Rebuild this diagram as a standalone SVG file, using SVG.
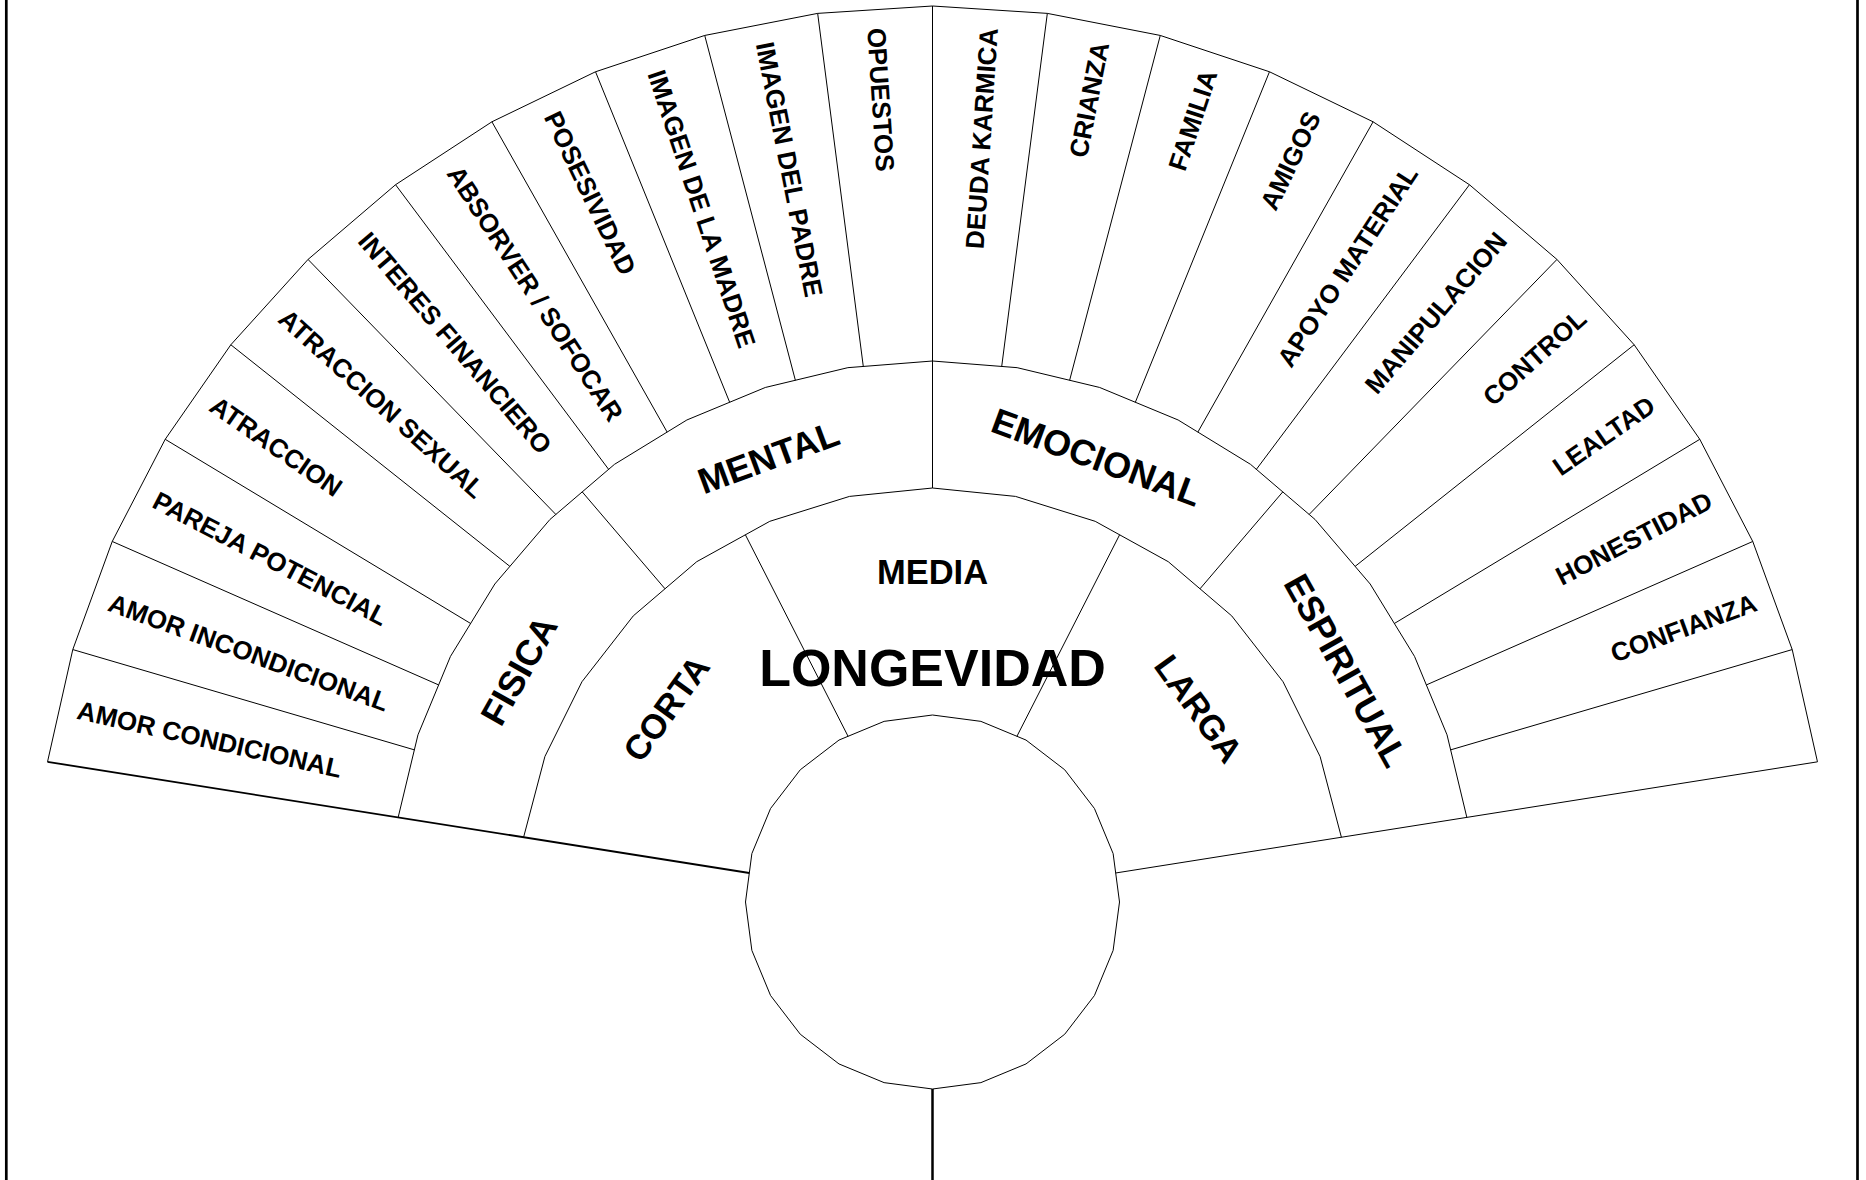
<svg xmlns="http://www.w3.org/2000/svg" width="1866" height="1180" viewBox="0 0 1866 1180">
<style>
.ln{fill:none;stroke:#000;stroke-width:1}
.t{font-family:"Liberation Sans",Arial,Helvetica,sans-serif;font-weight:bold;fill:#000}
.o{font-size:26px}
.r{text-anchor:end}
.m{font-size:36px;text-anchor:middle}
.i{font-size:34.5px;text-anchor:middle}
.big{font-size:52px;text-anchor:middle}
</style>
<rect width="1866" height="1180" fill="#fff"/>
<g id="connectors">
<line x1="6.3" y1="0" x2="6.3" y2="1180" stroke="#000" stroke-width="2.7"/>
<line x1="1857.5" y1="0" x2="1857.5" y2="1180" stroke="#000" stroke-width="2.7"/>
<line x1="932.5" y1="1089" x2="932.5" y2="1180" stroke="#000" stroke-width="2.5"/>
<polyline class="ln" points="47.53,761.84 72.79,649.57 112.24,541.46 165.21,439.31 230.84,344.78 308.04,259.45 395.55,184.72 491.91,121.81 595.53,71.78 704.72,35.44 817.66,13.39 932.5,6 1047.34,13.39 1160.28,35.44 1269.47,71.78 1373.09,121.81 1469.45,184.72 1556.96,259.45 1634.16,344.78 1699.79,439.31 1752.76,541.46 1792.21,649.57 1817.47,761.84"/>
<polyline class="ln" points="398.16,817.37 417.98,734.82 450.47,656.39 494.82,584.01 549.96,519.46 614.51,464.32 686.89,419.97 765.32,387.48 847.87,367.66 932.5,361 1017.13,367.66 1099.68,387.48 1178.11,419.97 1250.49,464.32 1315.04,519.46 1370.18,584.01 1414.53,656.39 1447.02,734.82 1466.84,817.37"/>
<polyline class="ln" points="523.60,837.24 544.90,756.53 581.96,681.74 633.26,615.90 696.73,561.69 769.79,521.32 849.46,496.41 932.5,488 1015.54,496.41 1095.21,521.32 1168.27,561.69 1231.74,615.90 1283.04,681.74 1320.10,756.53 1341.40,837.24"/>
<polygon class="ln" fill="#fff" points="932.5,715 980.90,721.37 1026.00,740.05 1064.73,769.77 1094.45,808.50 1113.13,853.60 1119.5,902 1113.13,950.40 1094.45,995.50 1064.73,1034.23 1026.00,1063.95 980.90,1082.63 932.5,1089 884.10,1082.63 839.00,1063.95 800.27,1034.23 770.55,995.50 751.87,950.40 745.5,902 751.87,853.60 770.55,808.50 800.27,769.77 839.00,740.05 884.10,721.37"/>
<line x1="749.32" y1="872.99" x2="47.53" y2="761.84" stroke="#000" stroke-width="1.8"/>
<line class="ln" x1="1115.68" y1="872.99" x2="1817.47" y2="761.84"/>
<line class="ln" x1="932.5" y1="488" x2="932.5" y2="6"/>
<line class="ln" x1="848.07" y1="736.30" x2="745.40" y2="534.80"/>
<line class="ln" x1="1016.93" y1="736.30" x2="1119.60" y2="534.80"/>
<line class="ln" x1="665.00" y1="588.80" x2="582.23" y2="491.89"/>
<line class="ln" x1="1200.00" y1="588.80" x2="1282.77" y2="491.89"/>
<line class="ln" x1="414.37" y1="749.86" x2="72.79" y2="649.57"/>
<line class="ln" x1="438.65" y1="684.93" x2="112.24" y2="541.46"/>
<line class="ln" x1="470.64" y1="623.49" x2="165.21" y2="439.31"/>
<line class="ln" x1="509.88" y1="566.38" x2="230.84" y2="344.78"/>
<line class="ln" x1="555.85" y1="514.44" x2="308.04" y2="259.45"/>
<line class="ln" x1="608.63" y1="469.36" x2="395.55" y2="184.72"/>
<line class="ln" x1="667.13" y1="432.09" x2="491.91" y2="121.81"/>
<line class="ln" x1="729.67" y1="402.25" x2="595.53" y2="71.78"/>
<line class="ln" x1="795.36" y1="380.27" x2="704.72" y2="35.44"/>
<line class="ln" x1="863.29" y1="366.45" x2="817.66" y2="13.39"/>
<line class="ln" x1="1001.71" y1="366.45" x2="1047.34" y2="13.39"/>
<line class="ln" x1="1069.64" y1="380.27" x2="1160.28" y2="35.44"/>
<line class="ln" x1="1135.33" y1="402.25" x2="1269.47" y2="71.78"/>
<line class="ln" x1="1197.87" y1="432.09" x2="1373.09" y2="121.81"/>
<line class="ln" x1="1256.37" y1="469.36" x2="1469.45" y2="184.72"/>
<line class="ln" x1="1309.15" y1="514.44" x2="1556.96" y2="259.45"/>
<line class="ln" x1="1355.12" y1="566.38" x2="1634.16" y2="344.78"/>
<line class="ln" x1="1394.36" y1="623.49" x2="1699.79" y2="439.31"/>
<line class="ln" x1="1426.35" y1="684.93" x2="1752.76" y2="541.46"/>
<line class="ln" x1="1450.63" y1="749.86" x2="1792.21" y2="649.57"/>
</g>
<g id="center">
<text class="t big" x="932.5" y="686">LONGEVIDAD</text>
</g>
<g id="inner-ring">
<text id="corta" class="t i" transform="rotate(-54 932.5 902)" x="932.5" y="573" dy="0.35em">CORTA</text>
<text id="media" class="t i" x="932.5" y="572" dy="0.35em">MEDIA</text>
<text id="larga" class="t i" transform="rotate(54 932.5 902)" x="932.5" y="573" dy="0.35em">LARGA</text>
</g>
<g id="middle-ring">
<text id="fisica" class="t m" transform="rotate(-60.75 932.5 902)" x="932.5" y="428" dy="0.35em">FISICA</text>
<text id="mental" class="t m" transform="rotate(-20.25 932.5 902)" x="932.5" y="428" dy="0.35em">MENTAL</text>
<text id="emocional" class="t m" transform="rotate(20.25 932.5 902)" x="932.5" y="428" dy="0.35em">EMOCIONAL</text>
<text id="espiritual" class="t m" transform="rotate(60.75 932.5 902)" x="932.5" y="428" dy="0.35em">ESPIRITUAL</text>
</g>
<g id="outer-ring">
<g id="o0"><text class="t o" transform="rotate(-77.318 932.5 902) translate(932.5 26) rotate(90)" dy="0.35em">AMOR CONDICIONAL</text></g>
<g id="o1"><text class="t o" transform="rotate(-69.955 932.5 902) translate(932.5 26) rotate(90)" dy="0.35em">AMOR INCONDICIONAL</text></g>
<g id="o2"><text class="t o" transform="rotate(-62.591 932.5 902) translate(932.5 26) rotate(90)" dy="0.35em">PAREJA POTENCIAL</text></g>
<g id="o3"><text class="t o" transform="rotate(-55.227 932.5 902) translate(932.5 26) rotate(90)" dy="0.35em">ATRACCION</text></g>
<g id="o4"><text class="t o" transform="rotate(-47.864 932.5 902) translate(932.5 26) rotate(90)" dy="0.35em">ATRACCION SEXUAL</text></g>
<g id="o5"><text class="t o" transform="rotate(-40.5 932.5 902) translate(932.5 26) rotate(90)" dy="0.35em">INTERES FINANCIERO</text></g>
<g id="o6"><text class="t o" transform="rotate(-33.136 932.5 902) translate(932.5 26) rotate(90)" dy="0.35em">ABSORVER / SOFOCAR</text></g>
<g id="o7"><text class="t o" transform="rotate(-25.773 932.5 902) translate(932.5 26) rotate(90)" dy="0.35em">POSESIVIDAD</text></g>
<g id="o8"><text class="t o" transform="rotate(-18.409 932.5 902) translate(932.5 26) rotate(90)" dy="0.35em">IMAGEN DE LA MADRE</text></g>
<g id="o9"><text class="t o" transform="rotate(-11.045 932.5 902) translate(932.5 26) rotate(90)" dy="0.35em">IMAGEN DEL PADRE</text></g>
<g id="o10"><text class="t o" transform="rotate(-3.682 932.5 902) translate(932.5 26) rotate(90)" dy="0.35em">OPUESTOS</text></g>
<g id="o11"><text class="t o r" transform="rotate(3.682 932.5 902) translate(932.5 26) rotate(-90)" dy="0.35em">DEUDA KARMICA</text></g>
<g id="o12"><text class="t o r" transform="rotate(11.045 932.5 902) translate(932.5 26) rotate(-90)" dy="0.35em">CRIANZA</text></g>
<g id="o13"><text class="t o r" transform="rotate(18.409 932.5 902) translate(932.5 26) rotate(-90)" dy="0.35em">FAMILIA</text></g>
<g id="o14"><text class="t o r" transform="rotate(25.773 932.5 902) translate(932.5 26) rotate(-90)" dy="0.35em">AMIGOS</text></g>
<g id="o15"><text class="t o r" transform="rotate(33.136 932.5 902) translate(932.5 26) rotate(-90)" dy="0.35em">APOYO MATERIAL</text></g>
<g id="o16"><text class="t o r" transform="rotate(40.5 932.5 902) translate(932.5 26) rotate(-90)" dy="0.35em">MANIPULACION</text></g>
<g id="o17"><text class="t o r" transform="rotate(47.864 932.5 902) translate(932.5 26) rotate(-90)" dy="0.35em">CONTROL</text></g>
<g id="o18"><text class="t o r" transform="rotate(55.227 932.5 902) translate(932.5 26) rotate(-90)" dy="0.35em">LEALTAD</text></g>
<g id="o19"><text class="t o r" transform="rotate(62.591 932.5 902) translate(932.5 26) rotate(-90)" dy="0.35em">HONESTIDAD</text></g>
<g id="o20"><text class="t o r" transform="rotate(69.955 932.5 902) translate(932.5 26) rotate(-90)" dy="0.35em">CONFIANZA</text></g>
</g>
</svg>
